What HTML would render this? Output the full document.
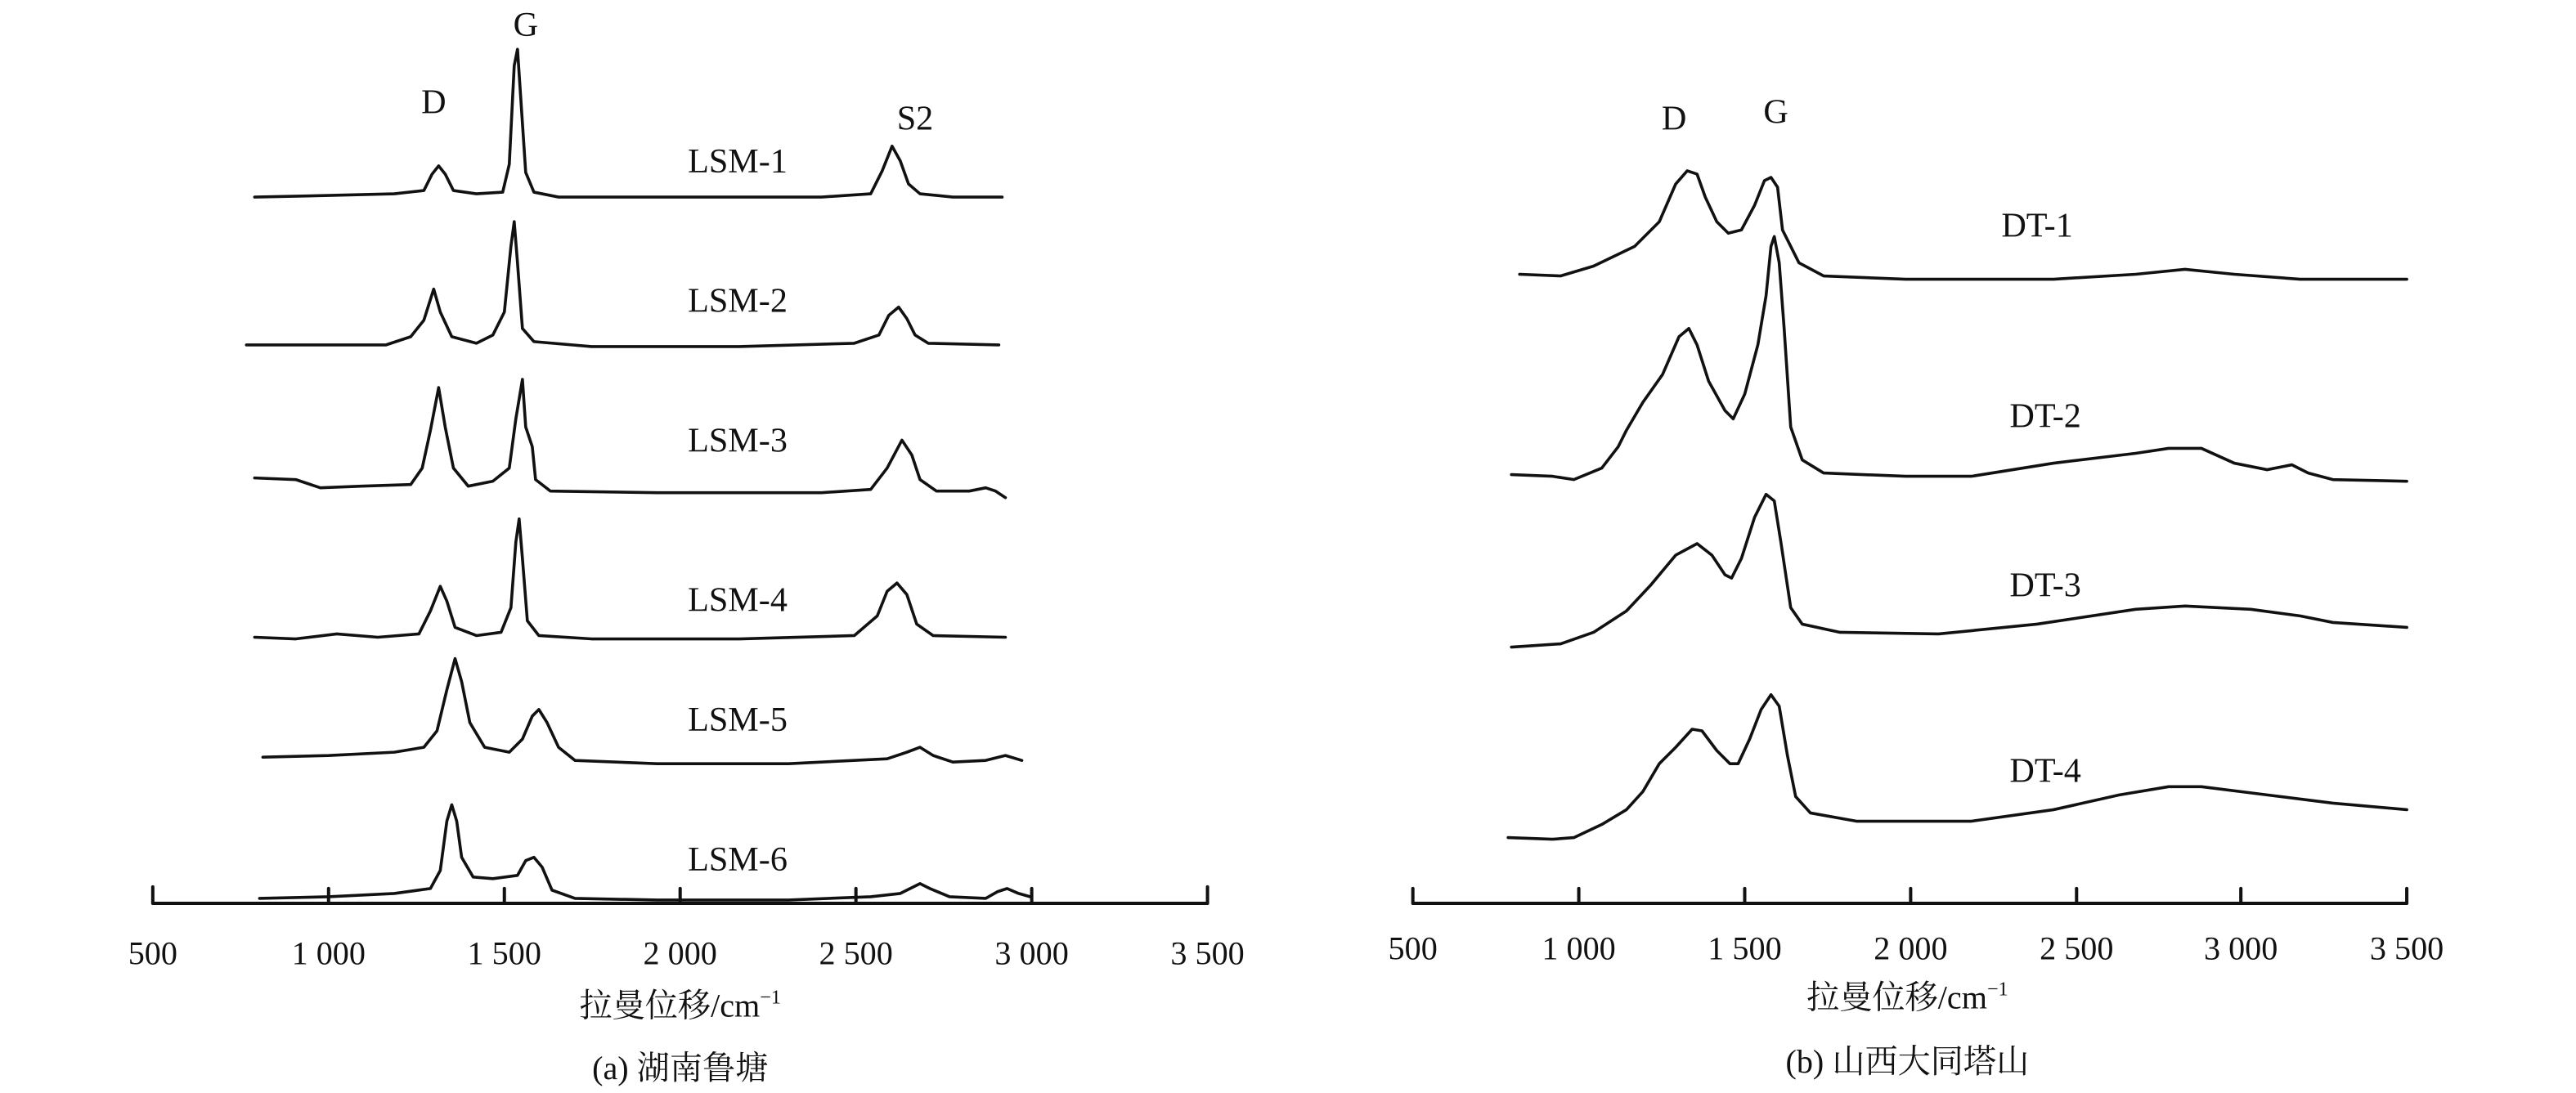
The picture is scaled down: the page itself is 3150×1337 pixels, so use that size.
<!DOCTYPE html>
<html><head><meta charset="utf-8"><style>
html,body{margin:0;padding:0;background:#fff;}
svg{display:block;}
text{font-family:"Liberation Serif","Noto Serif CJK SC","Noto Sans CJK SC",serif;fill:#111;}
</style></head><body>
<svg width="3150" height="1337" viewBox="0 0 1568 665.5" preserveAspectRatio="none" xmlns="http://www.w3.org/2000/svg">
<g fill="none" stroke="#111" stroke-width="1.8" stroke-linejoin="round" stroke-linecap="round">
<!-- left axis -->
<path d="M93 550 H735 M93 550 V540 M200 550 V541 M307 550 V541 M414 550 V541 M521 550 V541 M628 550 V541 M735 550 V540" stroke-width="2"/>
<!-- LSM-1 -->
<path d="M155 120 L200 119 L240 118 L258 116 L263 106 L267 101 L271 106 L276 116 L290 118 L306 117 L310 100 L313 40 L315 30 L317 60 L320 105 L325 117 L340 120 L400 120 L500 120 L530 118 L537 104 L543 89 L548 98 L553 112 L560 118 L580 120 L610 120"/>
<!-- LSM-2 -->
<path d="M150 210 L200 210 L235 210 L250 205 L258 195 L264 176 L268 190 L275 205 L290 209 L300 204 L307 190 L311 150 L313 135 L315 160 L318 200 L325 208 L360 211 L450 211 L520 209 L535 204 L541 192 L547 187 L552 194 L557 204 L565 209 L608 210"/>
<!-- LSM-3 -->
<path d="M155 291 L180 292 L195 297 L220 296 L250 295 L257 285 L262 262 L267 236 L271 260 L276 285 L285 296 L300 293 L310 285 L314 255 L318 231 L320 260 L324 272 L326 292 L335 299 L400 300 L500 300 L530 298 L540 285 L549 268 L555 277 L560 292 L570 299 L590 299 L600 297 L606 299 L612 303"/>
<!-- LSM-4 -->
<path d="M155 388 L180 389 L205 386 L230 388 L255 386 L262 372 L268 357 L272 366 L277 382 L290 387 L305 385 L311 370 L314 330 L316 316 L318 340 L321 378 L328 387 L360 389 L450 389 L520 387 L534 375 L540 360 L546 355 L552 362 L558 380 L568 387 L612 388"/>
<!-- LSM-5 -->
<path d="M160 461 L200 460 L240 458 L258 455 L266 445 L272 420 L277 401 L281 415 L286 440 L295 455 L310 458 L318 450 L324 436 L328 432 L333 440 L340 455 L350 463 L400 465 L480 465 L540 462 L552 458 L560 455 L568 460 L580 464 L600 463 L612 460 L622 463"/>
<!-- LSM-6 -->
<path d="M158 547 L200 546 L240 544 L262 541 L268 530 L272 500 L275 490 L278 500 L281 522 L288 534 L300 535 L315 533 L320 524 L325 522 L330 528 L336 542 L350 547 L400 548 L480 548 L530 546 L548 544 L556 540 L560 538 L566 541 L578 546 L600 547 L607 543 L613 541 L620 544 L627 546"/>
<!-- right axis -->
<path d="M860 550 H1465 M860 550 V541 M961 550 V541 M1062 550 V541 M1163 550 V541 M1264 550 V541 M1364 550 V541 M1465 550 V541" stroke-width="2"/>
<!-- DT-1 -->
<path d="M925 167 L950 168 L970 162 L995 150 L1010 135 L1020 112 L1027 104 L1033 106 L1038 120 L1045 135 L1052 142 L1060 140 L1068 125 L1074 110 L1078 108 L1082 114 L1085 140 L1090 150 L1095 160 L1110 168 L1160 170 L1250 170 L1300 167 L1330 164 L1360 167 L1400 170 L1465 170"/>
<!-- DT-2 -->
<path d="M920 289 L945 290 L958 292 L975 285 L985 272 L990 262 L1000 245 L1012 228 L1022 205 L1028 200 L1033 210 L1040 232 L1050 250 L1055 255 L1062 240 L1070 210 L1075 180 L1078 150 L1080 144 L1083 160 L1086 200 L1090 260 L1097 280 L1110 288 L1160 290 L1200 290 L1250 282 L1300 276 L1320 273 L1340 273 L1360 282 L1380 286 L1395 283 L1405 288 L1420 292 L1465 293"/>
<!-- DT-3 -->
<path d="M920 394 L950 392 L970 385 L990 372 L1005 356 L1020 338 L1033 331 L1042 338 L1050 350 L1054 352 L1060 340 L1068 315 L1075 301 L1080 305 L1084 330 L1090 370 L1097 380 L1120 385 L1180 386 L1240 380 L1300 371 L1330 369 L1370 371 L1400 375 L1420 379 L1465 382"/>
<!-- DT-4 -->
<path d="M918 510 L945 511 L958 510 L975 502 L990 493 L1000 482 L1010 465 L1020 455 L1030 444 L1036 445 L1045 457 L1053 465 L1058 465 L1065 450 L1072 432 L1078 423 L1083 430 L1088 460 L1093 485 L1102 495 L1130 500 L1200 500 L1250 493 L1290 484 L1320 479 L1340 479 L1380 484 L1420 489 L1465 493"/>
</g>
<g font-size="21" text-anchor="middle">
<text x="264" y="69">D</text><text x="320" y="22">G</text><text x="557" y="79">S2</text>
<text x="449" y="105">LSM-1</text><text x="449" y="190">LSM-2</text><text x="449" y="275">LSM-3</text>
<text x="449" y="372">LSM-4</text><text x="449" y="445">LSM-5</text><text x="449" y="530">LSM-6</text>
<text x="1019" y="79">D</text><text x="1081" y="75">G</text>
<text x="1240" y="144">DT-1</text><text x="1245" y="260">DT-2</text><text x="1245" y="363">DT-3</text><text x="1245" y="476">DT-4</text>
<g font-size="20">
<text x="93" y="587">500</text><text x="200" y="587">1 000</text><text x="307" y="587">1 500</text><text x="414" y="587">2 000</text><text x="521" y="587">2 500</text><text x="628" y="587">3 000</text><text x="735" y="587">3 500</text>
<text x="860" y="584">500</text><text x="961" y="584">1 000</text><text x="1062" y="584">1 500</text><text x="1163" y="584">2 000</text><text x="1264" y="584">2 500</text><text x="1364" y="584">3 000</text><text x="1465" y="584">3 500</text>
<text x="414" y="619">拉曼位移/cm<tspan font-size="12" dy="-8">−1</tspan></text>
<text x="1161" y="614">拉曼位移/cm<tspan font-size="12" dy="-8">−1</tspan></text>
<text x="414" y="657">(a) 湖南鲁塘</text>
<text x="1161" y="653">(b) 山西大同塔山</text>
</g>
</g>
</svg>
</body></html>
